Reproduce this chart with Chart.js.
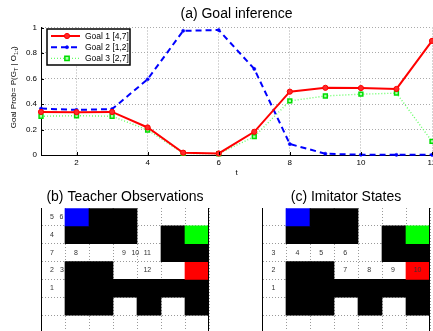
<!DOCTYPE html>
<html>
<head>
<meta charset="utf-8">
<script src="https://cdn.jsdelivr.net/npm/chart.js@4.4.0/dist/chart.umd.min.js"></script>
<style>
  html, body { margin: 0; padding: 0; background: #fff; overflow: hidden; width: 433px; height: 331px; }
  canvas { position: absolute; }
  #goalChart { left: 0; top: 0; }
  #teacherChart { left: 0; top: 180px; }
  #imitatorChart { left: 221px; top: 180px; }
</style>
</head>
<body>
<canvas id="goalChart" width="433" height="180"></canvas>
<canvas id="teacherChart" width="216" height="180"></canvas>
<canvas id="imitatorChart" width="216" height="180"></canvas>
<script>
const FONT = "'Liberation Sans', Arial, Helvetica, sans-serif";

// (a) goal inference
const steps = [1, 2, 3, 4, 5, 6, 7, 8, 9, 10, 11, 12];
const goal1 = [0.338, 0.336, 0.338, 0.216, 0.018, 0.012, 0.182, 0.497, 0.527, 0.525, 0.518, 0.895];
const goal2 = [0.364, 0.354, 0.360, 0.594, 0.974, 0.980, 0.675, 0.086, 0.010, 0.002, 0.001, 0.001];
const goal3 = [0.304, 0.308, 0.304, 0.196, 0.013, 0.010, 0.144, 0.424, 0.463, 0.477, 0.485, 0.107];
const seriesNames = ['Goal 1 [4,7]', 'Goal 2 [1,2]', 'Goal 3 [2,7]'];
const xTicks = [2, 4, 6, 8, 10, 12];
const yTicks = [0, 0.2, 0.4, 0.6, 0.8, 1];

// (b)/(c) maze: . free, K wall, B start, G and R goals
const mazeCols = ['1', '2', '3', '4', '5', '6', '7'];
const mazeRows = [
  '.BKK...',
  '.KKK.KG',
  '.....KK',
  '.KK...R',
  '.KKKKKK',
  '.KK.K.K',
  '.......',
  '.......'
];
const cellColors = { K: '#000000', B: '#0000ff', G: '#00ff00', R: '#ff0000' };
// [column position, row, text]
const teacherLabels = [
  [0.46, 0, '5'], [0.85, 0, '6'], [0.46, 1, '4'], [0.46, 2, '7'], [1.46, 2, '8'],
  [3.46, 2, '9'], [3.93, 2, '10'], [4.43, 2, '11'], [0.46, 3, '2'], [0.87, 3, '3'],
  [4.43, 3, '12'], [0.46, 4, '1']
];
const imitatorLabels = [
  [0.48, 4, '1'], [0.48, 3, '2'], [0.48, 2, '3'], [1.48, 2, '4'], [2.47, 2, '5'],
  [3.47, 2, '6'], [3.47, 3, '7'], [4.47, 3, '8'], [5.46, 3, '9'], [6.48, 3, '10']
];

// legend box, inner ticks and y title with subscripts
const goalExtras = {
  id: 'goalExtras',
  afterDraw(chart) {
    const { ctx, chartArea, scales } = chart;
    ctx.save();
    // inward tick marks
    ctx.strokeStyle = '#000';
    ctx.lineWidth = 1;
    ctx.beginPath();
    xTicks.forEach(v => {
      const x = Math.round(scales.x.getPixelForValue(v)) + 0.5;
      ctx.moveTo(x, chartArea.bottom);
      ctx.lineTo(x, chartArea.bottom - 3);
    });
    yTicks.forEach(v => {
      const y = Math.round(scales.y.getPixelForValue(v)) + 0.5;
      ctx.moveTo(chartArea.left, y);
      ctx.lineTo(chartArea.left + 3, y);
    });
    ctx.stroke();

    // legend
    const bx = chartArea.left + 6, by = chartArea.top + 1.5, bw = 83, bh = 36;
    ctx.fillStyle = '#fff';
    ctx.fillRect(bx, by, bw, bh);
    ctx.lineWidth = 1.5;
    ctx.strokeStyle = '#000';
    ctx.strokeRect(bx, by, bw, bh);
    ctx.font = '8.5px ' + FONT;
    ctx.textBaseline = 'middle';
    chart.data.datasets.forEach((ds, i) => {
      const y = by + 7 + i * 11.2;
      ctx.save();
      ctx.strokeStyle = ds.borderColor;
      ctx.lineWidth = ds.borderWidth;
      ctx.setLineDash(ds.borderDash || []);
      ctx.beginPath();
      ctx.moveTo(bx + 4, y);
      ctx.lineTo(bx + 33, y);
      ctx.stroke();
      ctx.restore();
      ctx.fillStyle = ds.pointBackgroundColor;
      ctx.strokeStyle = ds.pointBorderColor;
      ctx.lineWidth = ds.pointBorderWidth;
      ctx.beginPath();
      if (ds.pointStyle === 'rect') {
        const r = ds.pointRadius * 0.8;
        ctx.rect(bx + 20 - r, y - r, 2 * r, 2 * r);
      } else {
        ctx.arc(bx + 20, y, ds.pointRadius, 0, Math.PI * 2);
      }
      ctx.fill();
      ctx.stroke();
      ctx.fillStyle = '#000';
      ctx.fillText(ds.label, bx + 38, y + 0.5);
    });

    // y axis title: Goal Prob= P(G_T | O_1:t)
    const parts = [['Goal Prob= P(G', 0], ['T', 1], [' | O', 0], ['1:t', 1], [')', 0]];
    const mainFont = '8px ' + FONT, subFont = '5.5px ' + FONT;
    let total = 0;
    parts.forEach(p => { ctx.font = p[1] ? subFont : mainFont; total += ctx.measureText(p[0]).width; });
    ctx.translate(13, (chartArea.top + chartArea.bottom) / 2 - 4);
    ctx.rotate(-Math.PI / 2);
    ctx.fillStyle = '#000';
    ctx.textBaseline = 'alphabetic';
    let cx = -total / 2;
    parts.forEach(p => {
      ctx.font = p[1] ? subFont : mainFont;
      ctx.fillText(p[0], cx, p[1] ? 4.5 : 3);
      cx += ctx.measureText(p[0]).width;
    });
    ctx.restore();
  }
};

new Chart(document.getElementById('goalChart'), {
  type: 'line',
  data: {
    datasets: [
      {
        label: seriesNames[0],
        data: steps.map((t, i) => ({ x: t, y: goal1[i] })),
        borderColor: '#ff0000', borderWidth: 2,
        pointStyle: 'circle', pointRadius: 2.6, pointBorderWidth: 1,
        pointBackgroundColor: '#ff2a2a', pointBorderColor: '#ff0000'
      },
      {
        label: seriesNames[1],
        data: steps.map((t, i) => ({ x: t, y: goal2[i] })),
        borderColor: '#0000ff', borderWidth: 2, borderDash: [6, 4],
        pointStyle: 'circle', pointRadius: 1.6, pointBorderWidth: 0.5,
        pointBackgroundColor: '#0000ff', pointBorderColor: '#0000ff'
      },
      {
        label: seriesNames[2],
        data: steps.map((t, i) => ({ x: t, y: goal3[i] })),
        borderColor: '#66ff66', borderWidth: 1.4, borderDash: [1, 2],
        pointStyle: 'rect', pointRadius: 2.7, pointBorderWidth: 1.5,
        pointBackgroundColor: '#a8ffa8', pointBorderColor: '#00dd00'
      }
    ]
  },
  options: {
    responsive: false,
    animation: false,
    clip: false,
    elements: { line: { tension: 0 } },
    layout: { autoPadding: false, padding: { left: 0, right: 1, top: 0, bottom: 0 } },
    plugins: {
      legend: { display: false },
      tooltip: { enabled: false },
      title: {
        display: true, text: '(a) Goal inference', fullSize: false, color: '#000',
        font: { family: FONT, size: 14, weight: 'normal' },
        padding: { top: 6, bottom: 4.7 }
      }
    },
    scales: {
      x: {
        type: 'linear', min: 1, max: 12,
        afterBuildTicks: s => { s.ticks = xTicks.map(v => ({ value: v })); },
        afterFit: s => { s.height = 25; s.paddingLeft = 0; s.paddingRight = 0; },
        ticks: { color: '#000', font: { family: FONT, size: 8 }, padding: 3, maxRotation: 0, autoSkip: false, callback: v => String(v) },
        grid: { color: '#aaaaaa', lineWidth: 1, drawTicks: false },
        border: { display: true, color: '#000', width: 1, dash: [1, 2] },
        title: { display: true, text: 't', color: '#000', font: { family: FONT, size: 8 }, padding: { top: 0, bottom: 2 } }
      },
      y: {
        min: 0, max: 1,
        afterBuildTicks: s => { s.ticks = yTicks.map(v => ({ value: v })); },
        afterFit: s => { s.width = 41; s.paddingTop = 0; s.paddingBottom = 0; },
        ticks: { color: '#000', font: { family: FONT, size: 8 }, padding: 4, callback: v => String(Math.round(v * 10) / 10) },
        grid: { color: '#aaaaaa', lineWidth: 1, drawTicks: false },
        border: { display: true, color: '#000', width: 1, dash: [1, 2] }
      }
    }
  },
  plugins: [goalExtras]
});

function mazeChart(id, title, cellLabels) {
  const datasets = mazeRows.map((row, r) => ({
    data: row.split('').map(ch => (ch === '.' ? null : [r, r + 1])),
    backgroundColor: row.split('').map(ch => cellColors[ch] || 'rgba(0,0,0,0)'),
    borderWidth: 0,
    grouped: false,
    barPercentage: 1,
    categoryPercentage: 1
  }));

  const mazeExtras = {
    id: 'mazeExtras',
    afterDraw(chart) {
      const { ctx, chartArea, scales } = chart;
      ctx.save();
      // right frame edge
      ctx.strokeStyle = '#000';
      ctx.lineWidth = 1;
      ctx.beginPath();
      ctx.moveTo(chartArea.right - 0.5, chartArea.top);
      ctx.lineTo(chartArea.right - 0.5, chartArea.bottom);
      ctx.stroke();
      // path step numbers
      const x0 = scales.x.getPixelForValue(0);
      const cellW = scales.x.getPixelForValue(1) - x0;
      ctx.fillStyle = '#333';
      ctx.font = '7px ' + FONT;
      ctx.textAlign = 'center';
      ctx.textBaseline = 'middle';
      cellLabels.forEach(([c, r, txt]) => {
        ctx.fillText(txt, x0 + (c - 0.5) * cellW, scales.y.getPixelForValue(r + 0.5));
      });
      ctx.restore();
    }
  };

  return new Chart(document.getElementById(id), {
    type: 'bar',
    data: { labels: mazeCols, datasets },
    options: {
      responsive: false,
      animation: false,
      layout: { autoPadding: false, padding: { left: 41, right: 7, top: 0, bottom: 9.2 } },
      plugins: {
        legend: { display: false },
        tooltip: { enabled: false },
        title: {
          display: true, text: title, fullSize: false, color: '#000',
          font: { family: FONT, size: 14, weight: 'normal' },
          padding: { top: 8.6, bottom: 2.6 }
        }
      },
      scales: {
        x: {
          type: 'category', offset: true,
          afterFit: s => { s.height = 0; s.paddingLeft = 0; s.paddingRight = 0; },
          ticks: { display: false },
          grid: { offset: true, color: '#999', lineWidth: 1, drawTicks: false },
          border: { display: false, dash: [1, 2] }
        },
        y: {
          type: 'linear', reverse: true, min: 0, max: mazeRows.length,
          afterFit: s => { s.width = 0; s.paddingTop = 0; s.paddingBottom = 0; },
          ticks: { display: false, stepSize: 1 },
          grid: { color: c => (c.tick && c.tick.value === 0 ? 'rgba(0,0,0,0)' : '#999'), lineWidth: 1, drawTicks: false },
          border: { display: true, color: '#000', width: 1, dash: [1, 2] }
        }
      }
    },
    plugins: [mazeExtras]
  });
}

mazeChart('teacherChart', '(b) Teacher Observations', teacherLabels);
mazeChart('imitatorChart', '(c) Imitator States', imitatorLabels);
</script>
</body>
</html>
